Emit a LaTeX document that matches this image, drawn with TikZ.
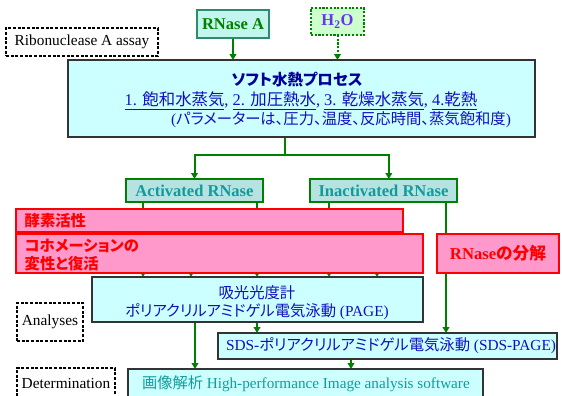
\documentclass[tikz,border=0pt]{standalone}
\usepackage{fontspec}
\setmainfont{Liberation Serif}
\newfontfamily\jp{Noto Sans CJK JP}[RawFeature=+palt]
\usetikzlibrary{arrows.meta}
\pgfdeclarelayer{bg}
\pgfsetlayers{bg,main}
\definecolor{grn}{HTML}{008000}
\definecolor{lcyan}{HTML}{CCFFFF}
\definecolor{lteal}{HTML}{B6E2E2}
\definecolor{tealtxt}{HTML}{109C9C}
\definecolor{pinkf}{HTML}{FF99CC}
\definecolor{navytxt}{HTML}{000099}
\definecolor{bluetxt}{HTML}{1010C0}
\definecolor{purp}{HTML}{6633EE}
\definecolor{lgrn}{HTML}{CCFFCC}
\definecolor{rnfill}{HTML}{C2F5EE}
\definecolor{rnedge}{HTML}{2E8B6E}
\newcommand\J[1]{{\jp #1}}
\begin{document}
\begin{tikzpicture}[x=0.75pt,y=-0.75pt,
  bx/.style 2 args={minimum width=#1*0.75pt, minimum height=#2*0.75pt, inner sep=0pt, outer sep=0pt, anchor=north west},
  conn/.style={draw=grn, line width=1.5pt},
  arr/.style={conn, -{Triangle[width=5pt,length=4.5pt]}},
  dashbox/.style={draw=black, line width=0.9pt, dash pattern=on 2.2pt off 1.3pt, fill=white},
  dashtxt/.style={font=\fontsize{11.5}{13}\selectfont},
  cyanbox/.style={draw=black!80, fill=lcyan, line width=0.9pt},
  tealbox/.style={draw=grn, fill=lteal, line width=1.4pt},
  tealtx/.style={text=tealtxt, font=\fontsize{12.4}{14}\selectfont\bfseries},
  pinkbox/.style={draw=red, fill=pinkf, line width=1.1pt},
  redtxt/.style={text=red, font=\fontsize{11}{14}\selectfont\bfseries\jp, align=left, anchor=west},
]
\useasboundingbox (0,0) rectangle (562,396);

% x positions for connectors
\coordinate (cA1) at (143,0);
\coordinate (cA2) at (191,0);
\coordinate (cA3) at (257,0);
\coordinate (cI1) at (329,0);
\coordinate (cI2) at (377,0);
\coordinate (cI3) at (446,0);
\coordinate (cP1) at (195,0);
\coordinate (cP2) at (257,0);
\coordinate (cS) at (351,0);
\coordinate (split) at (285,155);

% top
\node[dashbox, bx={152}{28}] (assay) at (6,28) {};
\node[dashtxt] (assayt) at (assay.center) {Ribonuclease A assay};
\node[bx={72}{28}, draw=rnedge, fill=rnfill, line width=1pt] (rnase) at (197,10) {};
\node[text=grn, font=\fontsize{12.4}{14}\selectfont\bfseries] (rnaset) at (rnase.center) {RNase A};
\node[bx={53}{27}, draw=grn, fill=lgrn, line width=1.6pt, dash pattern=on 1.6pt off 1.2pt] (h2o) at (311,8) {};
\node[text=purp, font=\fontsize{12.4}{14}\selectfont\bfseries] (h2ot) at (h2o.center) {H\textsubscript{2}O};

% main process box
\node[bx={467}{77}, cyanbox] (main) at (68,60) {};
\node[text=navytxt, font=\fontsize{11.6}{13}\selectfont\bfseries\jp] (t1) at (297,80) {ソフト水熱プロセス};
\node[text=bluetxt, font=\fontsize{12.3}{14}\selectfont] (t2) at (301,101)
  {\underline{1. \J{飽和水蒸気}}, \underline{2. \J{加圧熱水}}, \underline{3. \J{乾燥水蒸気}}, \underline{4.\J{乾熱}}};
\node[text=bluetxt, font=\fontsize{11.5}{14}\selectfont] (t3) at (341,120) {(\J{パラメーターは、圧力、温度、反応時間、蒸気飽和度})};

% activated / inactivated
\node[bx={137}{23}, tealbox] (act) at (126,179) {};
\node[tealtx] (actt) at (act.center) {Activated RNase};
\node[bx={147}{23}, tealbox] (inact) at (310,179) {};
\node[tealtx] (inactt) at (inact.center) {Inactivated RNase};

% pink boxes
\node[bx={387}{23}, pinkbox] (enz) at (16,209) {};
\node[redtxt, font=\fontsize{11.5}{14}\selectfont\bfseries\jp] (enzt) at (20,221) {酵素活性};
\node[bx={407}{39}, pinkbox] (conf) at (16,234) {};
\node[redtxt, font=\fontsize{11.5}{14.2}\selectfont\bfseries\jp] (conft) at (20,255) {コホメーションの\\変性と復活};
\node[bx={122}{39}, pinkbox] (deg) at (437,234) {};
\node[text=red, font=\fontsize{12.5}{14}\selectfont\bfseries] (degt) at (498,253) {RNase\J{の分解}};

% analyses
\node[dashbox, bx={66}{38}] (ana) at (17,303) {};
\node[dashtxt] (anat) at (ana.center) {Analyses};
\node[bx={331}{45}, cyanbox] (page) at (92,277) {};
\node[text=bluetxt, font=\fontsize{11.5}{14}\selectfont] (pt1) at (257,293) {\J{吸光光度計}};
\node[text=bluetxt, font=\fontsize{11.5}{14}\selectfont] (pt2) at (257,312) {\J{ポリアクリルアミドゲル電気泳動} (PAGE)};
\node[bx={339}{26}, cyanbox] (sds) at (218,333) {};
\node[text=bluetxt, font=\fontsize{11.5}{14}\selectfont] (st) at (391,346) {SDS-\J{ポリアクリルアミドゲル電気泳動} (SDS-PAGE)};

% determination
\node[dashbox, bx={98}{40}] (det) at (17,368) {};
\node[dashtxt] (dett) at (66,383) {Determination};
\node[bx={355}{40}, cyanbox] (img) at (128,369) {};
\node[text=tealtxt, font=\fontsize{11.4}{14}\selectfont] (imgt) at (306,384) {\J{画像解析} High-performance Image analysis software};

% connectors
\begin{pgfonlayer}{bg}
\draw[arr] (rnase.south) -- (main.north -| rnase.south);
\draw[arr, dash pattern=on 1.6pt off 1.2pt] (h2o.south) -- (main.north -| h2o.south);
\draw[conn] (main.south -| split) -- (split);
\draw[arr] (split) -| (act.north);
\draw[arr] (split) -| ([xshift=4pt]inact.north);
\draw[arr] (act.south -| cA1) -- (page.north -| cA1);
\draw[arr] (enz.south -| cA2) -- (page.north -| cA2);
\draw[arr] (act.south -| cA3) -- (page.north -| cA3);
\draw[arr] (inact.south -| cI1) -- (page.north -| cI1);
\draw[arr] (enz.south -| cI2) -- (page.north -| cI2);
\draw[conn] (inact.south -| cI3) -- (deg.north -| cI3);
\draw[arr] (deg.south -| cI3) -- (sds.north -| cI3);
\draw[arr] (page.south -| cP1) -- (img.north -| cP1);
\draw[arr] (page.south -| cP2) -- (sds.north -| cP2);
\draw[arr] (sds.south -| cS) -- (img.north -| cS);
\end{pgfonlayer}
\end{tikzpicture}
\end{document}
